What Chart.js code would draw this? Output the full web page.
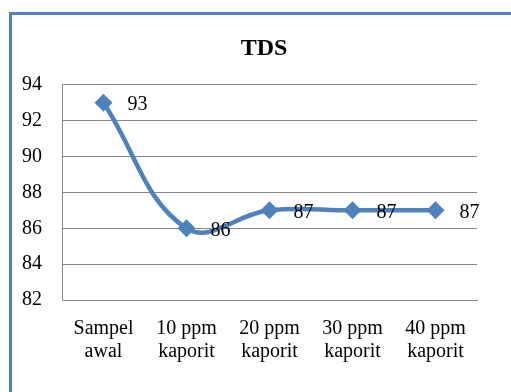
<!DOCTYPE html>
<html>
<head>
<meta charset="utf-8">
<script src="https://cdn.jsdelivr.net/npm/chart.js@4"></script>
<style>
  html, body { margin: 0; padding: 0; background: #fff; }
  body { width: 511px; height: 392px; overflow: hidden; position: relative; }
  #frame {
    position: absolute; left: 9px; top: 12px; width: 600px; height: 500px;
    border-left: 3px solid #4F81BD; border-top: 3px solid #4F81BD;
  }
  #wrap { position: absolute; left: 0; top: 0; width: 528px; height: 392px; }
</style>
</head>
<body>
<div id="frame"></div>
<div id="wrap"><canvas id="myChartTds" width="528" height="392"></canvas></div>
<script>
const kategori = [['Sampel', 'awal'], ['10 ppm', 'kaporit'], ['20 ppm', 'kaporit'], ['30 ppm', 'kaporit'], ['40 ppm', 'kaporit']];
const nilaiTds = [93, 86, 87, 87, 87];
const yMin = 82;
const yMax = 94;
const yStep = 2;

const fontSerif = '"Liberation Serif", "Times New Roman", serif';

// label angka di kanan tiap titik
const labelTitik = {
    id: 'labelTitik',
    afterDatasetsDraw(chart) {
        const ctx = chart.ctx;
        const meta = chart.getDatasetMeta(0);
        ctx.save();
        ctx.font = '20px ' + fontSerif;
        ctx.fillStyle = '#000';
        ctx.textAlign = 'left';
        ctx.textBaseline = 'middle';
        meta.data.forEach((pt, i) => {
            ctx.fillText(String(nilaiTds[i]), pt.x + 24, pt.y + 2);
        });
        ctx.restore();
    }
};

var ctxTds = document.getElementById('myChartTds').getContext('2d');
myChartTds = new Chart(ctxTds, {
    type: 'line',
    data: {
        labels: kategori,
        datasets: [
            {
                label: 'TDS',
                data: nilaiTds,
                yAxisID: 'y',
                borderColor: '#4F81BD',
                backgroundColor: '#4F81BD',
                borderWidth: 4.5,
                tension: 0.4,
                pointStyle: 'rectRot',
                pointRadius: 9,
                pointHoverRadius: 9,
                pointBorderWidth: 0
            }
        ]
    },
    options: {
        responsive: false,
        animation: false,
        devicePixelRatio: 1,
        layout: { padding: 0 },
        plugins: {
            legend: { display: false },
            tooltip: { enabled: false },
            title: {
                display: true,
                text: 'TDS',
                color: '#000',
                font: { family: fontSerif, size: 24, weight: 'bold', lineHeight: 1.2 },
                padding: { top: 34, bottom: 22 }
            }
        },
        scales: {
            x: {
                offset: true,
                grid: { display: false, drawTicks: false },
                border: { display: true, color: '#868686', width: 1 },
                ticks: {
                    color: '#000',
                    padding: 17,
                    maxRotation: 0,
                    autoSkip: false,
                    font: { family: fontSerif, size: 20, lineHeight: 1.15 }
                },
                afterFit(scale) { scale.height = 92; }
            },
            y: {
                min: yMin,
                max: yMax,
                grid: { color: '#868686', lineWidth: 1, drawTicks: false },
                border: { display: true, color: '#868686', width: 1 },
                ticks: {
                    stepSize: yStep,
                    color: '#000',
                    padding: 20,
                    font: { family: fontSerif, size: 20 }
                },
                afterFit(scale) { scale.width = 62; }
            },
            // ruang kosong di kanan supaya judul berada di tengah seperti aslinya
            kanan: {
                position: 'right',
                grid: { display: false, drawTicks: false },
                border: { display: false },
                ticks: { display: false },
                afterFit(scale) { scale.width = 51; }
            }
        }
    },
    plugins: [labelTitik]
});
</script>
</body>
</html>
